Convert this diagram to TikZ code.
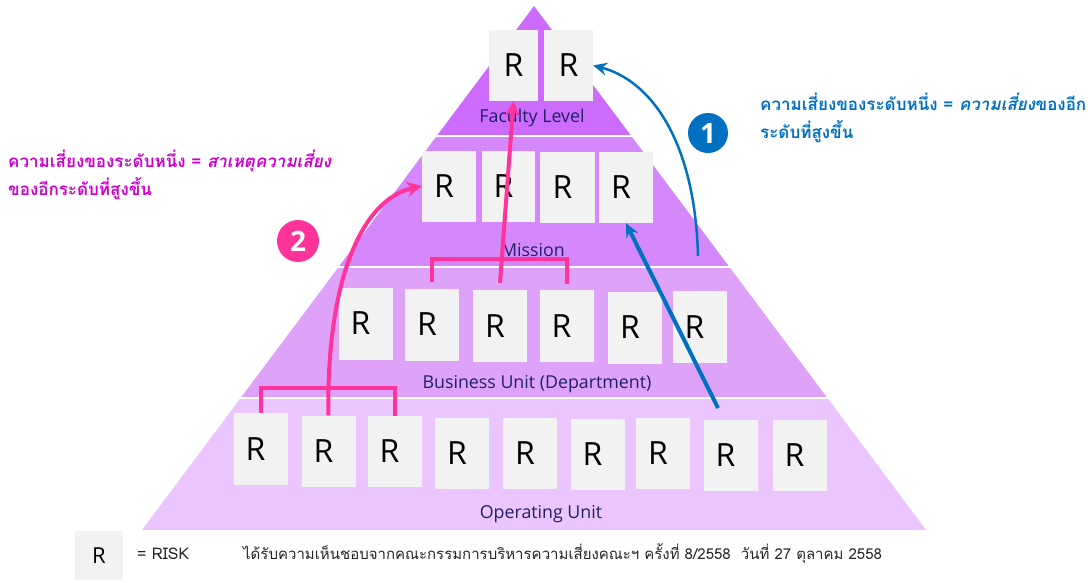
\documentclass[tikz,border=0pt]{standalone}
\usepackage{fontspec}
\setmainfont{Open Sans}
\newfontfamily\thaifont[Script=Thai]{Loma}
\newfontfamily\rfont{Open Sans}
\usetikzlibrary{arrows.meta}
\definecolor{layA}{RGB}{205,107,255}
\definecolor{layB}{RGB}{212,136,251}
\definecolor{layC}{RGB}{222,163,249}
\definecolor{layD}{RGB}{235,197,253}
\definecolor{boxgray}{RGB}{242,242,242}
\definecolor{navy}{RGB}{32,32,100}
\definecolor{pinkc}{RGB}{255,51,153}
\definecolor{bluec}{RGB}{0,112,192}
\definecolor{magc}{RGB}{204,0,204}
\definecolor{legtxt}{RGB}{38,38,38}
\begin{document}
\begin{tikzpicture}[x=1pt,y=-1pt,
  rbox/.style={fill=boxgray, inner sep=0pt, minimum width=54pt, minimum height=71pt,
    font=\rfont\fontsize{32}{32}\selectfont},
  rboxs/.style={rbox, execute at end node={\hspace*{10pt}}},
  lvl/.style={font=\fontsize{17.8}{17.8}\selectfont, text=navy, inner sep=0pt},
  pinkln/.style={draw=pinkc, line width=4pt},
  pinkarrow/.style={pinkln, -{Stealth[length=15pt,width=15pt,inset=5pt]}},
  bluearrow/.style={draw=bluec, -{Stealth[length=14pt,width=13pt,inset=5pt]}},
  numcirc/.style={circle, inner sep=0pt, text=white, font=\bfseries\fontsize{28}{28}\selectfont},
  thaiL/.style={anchor=base west, inner sep=0pt, font=\thaifont\bfseries\fontsize{17}{17}\selectfont},
]
\useasboundingbox (0,0) rectangle (1091,582);
% pyramid layers
\fill[layA] (534,6) -- (631.3,136) -- (436.7,136) -- cycle;
\fill[layB] (436.7,136) -- (631.3,136) -- (729.4,267) -- (338.6,267) -- cycle;
\fill[layC] (338.6,267) -- (729.4,267) -- (827.4,398) -- (240.6,398) -- cycle;
\fill[layD] (240.6,398) -- (827.4,398) -- (926,530) -- (142,530) -- cycle;
\draw[white, line width=2pt] (430,136) -- (640,136);
\draw[white, line width=2pt] (330,267) -- (740,267);
\draw[white, line width=2pt] (230,398) -- (840,398);
% level labels
\node[lvl] (lf) at (532,118) {Faculty Level};
\node[lvl] (lm) at (533,250) {Mission};
\node[lvl] (lb) at (537,384) {Business Unit (Department)};
\node[lvl] (lo) at (541,514) {Operating Unit};
% risk boxes
\node[rbox, minimum width=49pt] (f1) at (513.5,65.5) {R};
\node[rbox, minimum width=49pt] (f2) at (568.5,65.5) {R};
\node[rboxs] (m1) at (449,186) {R};
\node[rboxs, minimum width=53pt] (m2) at (508.5,186.5) {R};
\node[rboxs, minimum width=55pt] (m3) at (567.5,187.5) {R};
\node[rboxs] (m4) at (626,187.5) {R};
\node[rboxs, minimum height=72pt] (b1) at (365.5,323.5) {R};
\node[rboxs, minimum height=72pt] (b2) at (432,324.5) {R};
\node[rboxs, minimum height=72pt] (b3) at (500,326) {R};
\node[rboxs, minimum height=72pt] (b4) at (566.5,326) {R};
\node[rboxs, minimum height=72pt] (b5) at (635,327.5) {R};
\node[rboxs, minimum height=72pt] (b6) at (699.5,327) {R};
\node[rboxs, minimum height=72pt] (o1) at (260.5,449) {R};
\node[rboxs] (o2) at (328.5,451) {R};
\node[rboxs] (o3) at (394.5,451.5) {R};
\node[rboxs] (o4) at (462,453) {R};
\node[rboxs] (o5) at (530,453) {R};
\node[rboxs] (o6) at (597.5,454.5) {R};
\node[rboxs] (o7) at (663,453.5) {R};
\node[rboxs] (o8) at (730.5,455.5) {R};
\node[rboxs] (o9) at (799.5,455.5) {R};
% pink brackets and arrows
\coordinate (bbar) at (0,388);
\coordinate (mbar) at (0,259);
\draw[pinkln] (o1.north) -- (o1.north |- bbar) -- (o3.north |- bbar) -- (o3.north);
\draw[pinkln] ([yshift=6pt]b2.north) -- (b2.north |- mbar) -- (b4.north |- mbar) -- ([yshift=6pt]b4.north);
\draw[pinkarrow] (o2.north) .. controls (326,290) and (358,200) .. (m1.west);
\draw[pinkarrow] ([yshift=7pt]b3.north) -- (f1.south);
% blue arrows
\coordinate (bc1) at (698,256);
\coordinate (bc2) at (718,408);
\draw[bluearrow, line width=2.5pt] (bc1) .. controls (695,140) and (650,80) .. (f2.east);
\draw[bluearrow, line width=4pt] (bc2) -- (m4.south);
% numbered circles
\node[numcirc, fill=bluec, minimum size=40pt] (c1) at (708,133) {1};
\node[numcirc, fill=pinkc, minimum size=42pt] (c2) at (298,241) {2};
% explanatory texts
\node[thaiL, text=magc] (tl1) at (8,167) {ความเสี่ยงของระดับหนึ่ง = \textit{สาเหตุความเสี่ยง}};
\node[thaiL, text=magc] (tl2) at (8,195) {ของอีกระดับที่สูงขึ้น};
\node[thaiL, text=bluec] (tr1) at (760,110) {ความเสี่ยงของระดับหนึ่ง = \textit{ความเสี่ยง}ของอีก};
\node[thaiL, text=bluec] (tr2) at (760,138) {ระดับที่สูงขึ้น};
% legend
\node[fill=boxgray, minimum width=48pt, minimum height=49pt, inner sep=0pt,
  font=\rfont\fontsize{22}{22}\selectfont] (lg) at (99,555.5) {R};
\node[anchor=base west, inner sep=0pt, text=legtxt, font=\thaifont\fontsize{16}{16}\selectfont] (lgt) at (137,559) {= RISK};
\node[anchor=base west, inner sep=0pt, text=legtxt, font=\thaifont\fontsize{15}{15}\selectfont] (lgd) at (243,559)
  {ได้รับความเห็นชอบจากคณะกรรมการบริหารความเสี่ยงคณะฯ ครั้งที่ 8/2558~~วันที่ 27 ตุลาคม 2558};
\end{tikzpicture}
\end{document}
